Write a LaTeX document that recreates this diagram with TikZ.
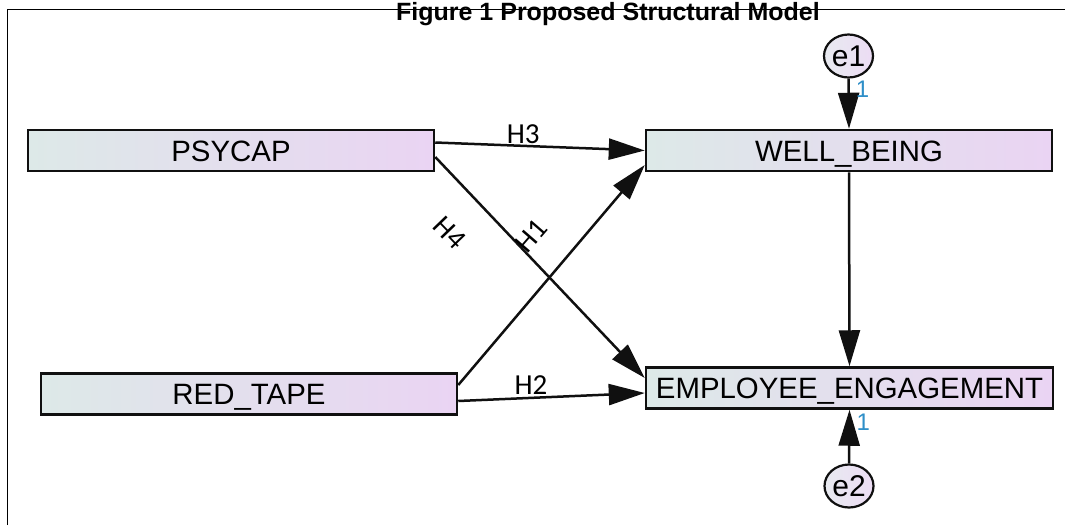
\documentclass[tikz,border=0pt]{standalone}
\usepackage{fontspec}
\setmainfont{Liberation Sans}
\newfontfamily\hypfont{Carlito}
\usepackage{tikz}
\usetikzlibrary{arrows.meta,shapes.geometric}
\definecolor{varleft}{HTML}{DDE9E8}
\definecolor{varright}{HTML}{EAD4F3}
\definecolor{errleft}{HTML}{E8EAF0}
\definecolor{errright}{HTML}{ECDCF4}
\definecolor{onecol}{HTML}{2F8FC8}
\definecolor{edgecol}{HTML}{101010}

\begin{document}
\begin{tikzpicture}[x=1pt,y=-1pt,
	var/.style={draw=edgecol,line width=2.5pt,left color=varleft,right color=varright,
		minimum height=41pt,inner sep=0pt,text height=21pt,text depth=0pt,
		font=\fontsize{29.4}{30}\selectfont},
	err/.style={ellipse,draw=edgecol,line width=2.2pt,left color=errleft,right color=errright,
		minimum width=49pt,minimum height=43pt,inner sep=0pt,font=\fontsize{30}{31}\selectfont},
	arr/.style={draw=edgecol,line width=2.5pt,-{Triangle[length=36pt,width=21pt]}},
	hyp/.style={font=\hypfont\fontsize{29}{30}\selectfont,inner sep=0pt},
	one/.style={text=onecol,font=\fontsize{24}{24}\selectfont,inner sep=0pt}]
			\useasboundingbox (0,0) rectangle (1065,525);
			\draw [line width=1.5pt] (7.5,525) -- (7.5,9.5) -- (1065,9.5);
			\node [font=\bfseries\fontsize{25}{26}\selectfont,anchor=base,inner sep=0pt] (title) at (608,20.5) {Figure 1 Proposed Structural Model};
			\node [var,minimum width=406pt] (psycap) at (231,150.5) {PSYCAP};
			\node [var,minimum width=416pt] (redtape) at (249,394) {RED\_TAPE};
			\node [var,minimum width=406pt] (wellbeing) at (849,150.5) {WELL\_BEING};
			\node [var,minimum width=407pt] (engage) at (849.5,388) {EMPLOYEE\_ENGAGEMENT};
			\node [err] (e1) at (848.5,56) {e1};
			\node [err] (e2) at (849,486) {e2};
			\draw [arr] ([yshift=8pt]psycap.east) -- (wellbeing.west)
				node [hyp,pos=0.42,anchor=base,yshift=2pt] {H3};
			\draw [arr] ([yshift=-6.5pt]psycap.east) -- ([yshift=10pt]engage.west);
			\draw [arr] ([yshift=9pt]redtape.east) -- ([yshift=-14.5pt]wellbeing.west);
			\draw [arr] ([yshift=-7pt]redtape.east) -- ([yshift=-5pt]engage.west)
				node [hyp,pos=0.39,anchor=base,yshift=3pt] {H2};
			\node [hyp,rotate=-46] (h4) at (450,233) {H4};
			\node [hyp,rotate=49] (h1) at (531,236) {H1};
			\draw [arr] (wellbeing.south) -- (engage.north);
			\draw [arr] (e1.south) -- (wellbeing.north)
				node [one,pos=0.22,anchor=west,xshift=6pt] {1};
			\draw [arr] (e2.north) -- (engage.south)
				node [one,pos=0.77,anchor=west,xshift=6pt] {1};
\end{tikzpicture}
\end{document}
